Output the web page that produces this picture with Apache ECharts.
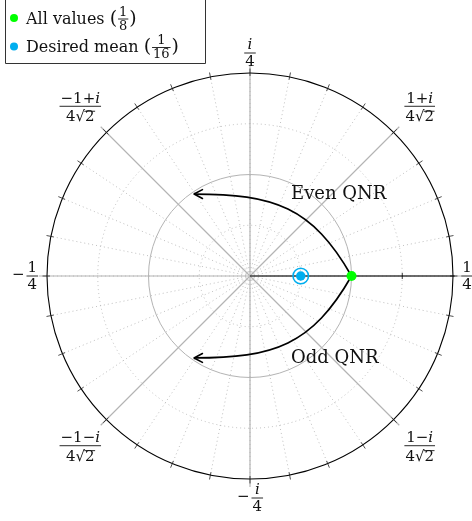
<!DOCTYPE html>
<html><head><meta charset="utf-8">
<script src="https://cdn.jsdelivr.net/npm/echarts@6/dist/echarts.min.js"></script>
<style>html,body{margin:0;padding:0;background:#fff}#c{width:472px;height:521px}</style>
</head><body><div id="c"></div>
<script>
// ---------- data ----------
const outerRadius = 0.25;
const solidRadii = [0.125];
const dottedRadii = [0.0625, 0.1875];
const majorAngles = [0, 45, 90, 135, 180, 225, 270, 315];
const minorAngles = [0, 11.25, 22.5, 33.75, 45, 56.25, 67.5, 78.75, 90, 101.25, 112.5, 123.75,
  135, 146.25, 157.5, 168.75, 180, 191.25, 202.5, 213.75, 225, 236.25, 247.5, 258.75,
  270, 281.25, 292.5, 303.75, 315, 326.25, 337.5, 348.75];
const realAxisTicks = [0.0625, 0.125, 0.1875];
const allValues = [[0.125, 0]];
const desiredMean = [[0.0625, 0]];
// cubic Bezier control points (complex plane units)
const evenQNR = [[0.125, 0], [0.0763, 0.0852], [0.0295, 0.1009], [-0.0689, 0.1009]];
const oddQNR = [[0.125, 0], [0.0763, -0.0852], [0.0295, -0.1009], [-0.0689, -0.1009]];
const curveNames = ['Even QNR', 'Odd QNR'];
const labelAngles = [0, 45, 90, 135, 180, 225, 270, 315];
const labelSigns = ['', '', '', '', '\u2212', '', '\u2212', ''];
const labelNums = ['1', '1+i', 'i', '\u22121+i', '1', '\u22121\u2212i', 'i', '1\u2212i'];
const labelDens = ['4', '4\u221A2', '4', '4\u221A2', '4', '4\u221A2', '4', '4\u221A2'];
const legendNames = ['All values', 'Desired mean'];
const legendNums = ['1', '1'];
const legendDens = ['8', '16'];

// ---------- layout ----------
const PX = 812;             // pixels per unit
const CX = 250, CY = 276;   // pixel position of origin
const FONT = '"DejaVu Serif"';
const GREEN = '#00ff00', CYAN = '#00AEEF', GRID = '#b4b4b4', DOT = '#b0b0b0';

const ctx = document.createElement('canvas').getContext('2d');
function measure(t, fs, italic) { ctx.font = (italic ? 'italic ' : '') + fs + 'px ' + FONT; return ctx.measureText(t).width; }
const rad = d => d * Math.PI / 180;

function fracEls(cx, cy, num, den, fs, color) {
  const wn = measure(num, fs), wd = measure(den, fs);
  const w = Math.max(wn, wd) + 2;
  const hasSqrt = den.indexOf('\u221A') >= 0;
  const rich = { it: { fontStyle: 'italic', fontSize: fs, fontFamily: FONT, fill: color } };
  const els = [
    { type: 'text', x: cx, y: cy - fs * 0.5, style: { text: num.replace(/i/g, '{it|i}'), rich, fontSize: fs, fontFamily: FONT, fill: color, align: 'center', verticalAlign: 'middle' } },
    { type: 'line', shape: { x1: cx - w / 2, y1: cy, x2: cx + w / 2, y2: cy }, style: { stroke: color, lineWidth: 0.9 } },
    { type: 'text', x: cx, y: cy + fs * (hasSqrt ? 0.75 : 0.58), style: { text: den, fontSize: fs, fontFamily: FONT, fill: color, align: 'center', verticalAlign: 'middle' } }
  ];
  if (hasSqrt) {
    const left = cx - wd / 2;
    const x1 = left + measure(den.slice(0, den.indexOf('\u221A') + 1), fs) - 0.8;
    const yo = cy + fs * 0.75 - fs * 0.42;
    els.push({ type: 'line', shape: { x1, y1: yo, x2: left + wd + 0.5, y2: yo }, style: { stroke: color, lineWidth: 0.9 } });
  }
  return { els, w };
}

function circleSeries(radii, style, z) {
  return {
    type: 'custom', coordinateSystem: 'cartesian2d', z, silent: true, clip: false,
    data: radii.map(r => [r, 0]), encode: { x: 0, y: 1 },
    renderItem(p, api) {
      const c = api.coord([0, 0]);
      const r = api.size([api.value(0), 0])[0];
      return { type: 'circle', shape: { cx: c[0], cy: c[1], r }, style: Object.assign({ fill: 'none' }, style) };
    }
  };
}
function spokeSeries(angles, r0, r1, style, z) {
  return {
    type: 'custom', coordinateSystem: 'cartesian2d', z, silent: true, clip: false,
    data: angles.map(a => [a, 0]), encode: { x: 0, y: 1 },
    renderItem(p, api) {
      const a = rad(api.value(0));
      const p0 = api.coord([r0 * Math.cos(a), r0 * Math.sin(a)]);
      const p1 = api.coord([r1 * Math.cos(a), r1 * Math.sin(a)]);
      return { type: 'line', shape: { x1: p0[0], y1: p0[1], x2: p1[0], y2: p1[1] }, style };
    }
  };
}
function curveSeries(pts, name) {
  return {
    type: 'custom', coordinateSystem: 'cartesian2d', z: 6, silent: true, clip: false,
    data: [pts.flat()], encode: { x: 0, y: 1 },
    renderItem(p, api) {
      const q = [0, 1, 2, 3].map(i => api.coord([api.value(2 * i), api.value(2 * i + 1)]));
      const dx = q[3][0] - q[2][0], dy = q[3][1] - q[2][1];
      const L = Math.hypot(dx, dy), ux = dx / L, uy = dy / L;
      const hl = 9.5, phi = rad(28);
      const back = (s) => [q[3][0] - hl * (ux * Math.cos(s * phi) - uy * Math.sin(s * phi)), q[3][1] - hl * (uy * Math.cos(s * phi) + ux * Math.sin(s * phi))];
      // label sits right of the curve, level with the arrow's end
      const lp = api.coord([api.value(0) - 0.0745, api.value(7)]);
      return {
        type: 'group', children: [
          { type: 'bezierCurve', shape: { x1: q[0][0], y1: q[0][1], cpx1: q[1][0], cpy1: q[1][1], cpx2: q[2][0], cpy2: q[2][1], x2: q[3][0], y2: q[3][1] }, style: { stroke: '#000', lineWidth: 1.7, fill: 'none' } },
          { type: 'polyline', shape: { points: [back(1), q[3], back(-1)] }, style: { stroke: '#000', lineWidth: 1.6, fill: 'none', lineJoin: 'round', lineCap: 'round' } },
          { type: 'text', x: lp[0], y: lp[1], style: { text: name, fontSize: 18, fontFamily: FONT, fill: '#111', align: 'left', verticalAlign: 'middle' } }
        ]
      };
    }
  };
}

const labelDist = a => (a % 90 !== 0) ? 240 : ({ 0: 217, 90: 223, 180: 225, 270: 222 })[a];

const labelSeries = {
  type: 'custom', coordinateSystem: 'cartesian2d', z: 7, silent: true, clip: false,
  data: labelAngles.map((a, i) => [a, i]), encode: { x: 0, y: 1 },
  renderItem(p, api) {
    const a = rad(api.value(0)), i = api.value(1);
    const o = api.coord([0, 0]);
    const d = labelDist(labelAngles[i]);
    const cx = o[0] + d * Math.cos(a), cy = o[1] - d * Math.sin(a);
    const fs = 15;
    const sign = labelSigns[i];
    let children = [];
    if (sign) {
      const fw = Math.max(measure(labelNums[i], fs), measure(labelDens[i], fs)) + 2;
      const sw = measure(sign, fs);
      const total = sw + 2 + fw;
      const left = cx - total / 2;
      children.push({ type: 'text', x: left + sw / 2, y: cy - 1, style: { text: sign, fontSize: fs, fontFamily: FONT, fill: '#111', align: 'center', verticalAlign: 'middle' } });
      children = children.concat(fracEls(left + sw + 2 + fw / 2, cy, labelNums[i], labelDens[i], fs, '#111').els);
    } else {
      children = fracEls(cx, cy, labelNums[i], labelDens[i], fs, '#111').els;
    }
    return { type: 'group', children };
  }
};

const tickSeries = {
  type: 'custom', coordinateSystem: 'cartesian2d', z: 5, silent: true, clip: false,
  data: realAxisTicks.map(t => [t, 0]), encode: { x: 0, y: 1 },
  renderItem(p, api) {
    const c = api.coord([api.value(0), 0]);
    return { type: 'line', shape: { x1: c[0], y1: c[1] - 3, x2: c[0], y2: c[1] + 3 }, style: { stroke: '#000', lineWidth: 0.8 } };
  }
};

// legend (pixel layout)
const legendEls = [{ type: 'rect', shape: { x: 5.5, y: -1, width: 200, height: 64.5 }, style: { fill: '#fff', stroke: '#333', lineWidth: 1 }, z: 100 }];
[GREEN, CYAN].forEach((col, i) => {
  const y = 18 + 28.5 * i;
  legendEls.push({ type: 'circle', shape: { cx: 14, cy: y, r: 4 }, style: { fill: col }, z: 101 });
  const t = legendNames[i] + ' ';
  const tw = measure(t, 16);
  legendEls.push({ type: 'text', x: 26, y: y + 1.5, style: { text: t, fontSize: 16, fontFamily: FONT, fill: '#111', verticalAlign: 'middle' }, z: 101 });
  let x = 26 + tw;
  const pw = measure('(', 19);
  legendEls.push({ type: 'text', x, y: y + 1, style: { text: '(', fontSize: 19, fontFamily: FONT, fill: '#111', verticalAlign: 'middle' }, z: 101 });
  x += pw + 1;
  const fw = Math.max(measure(legendNums[i], 13), measure(legendDens[i], 13)) + 2;
  const f = fracEls(x + fw / 2, y + 1, legendNums[i], legendDens[i], 13, '#111');
  f.els.forEach(e => { e.z = 101; legendEls.push(e); });
  x += fw + 1;
  legendEls.push({ type: 'text', x, y: y + 1, style: { text: ')', fontSize: 19, fontFamily: FONT, fill: '#111', verticalAlign: 'middle' }, z: 101 });
});

const chart = echarts.init(document.getElementById('c'), null, { renderer: 'canvas' });
chart.setOption({
  animation: false,
  backgroundColor: '#fff',
  grid: { left: 0, right: 0, top: 0, bottom: 0, containLabel: false },
  xAxis: { type: 'value', min: -CX / PX, max: (472 - CX) / PX, show: false },
  yAxis: { type: 'value', min: -(521 - CY) / PX, max: CY / PX, show: false },
  graphic: legendEls,
  series: [
    circleSeries(dottedRadii, { stroke: DOT, lineWidth: 0.8, lineDash: [1, 3] }, 1),
    spokeSeries(minorAngles, 0, outerRadius, { stroke: DOT, lineWidth: 0.8, lineDash: [1, 3] }, 1),
    circleSeries(solidRadii, { stroke: GRID, lineWidth: 1 }, 2),
    spokeSeries(majorAngles, 0, 0.26, { stroke: GRID, lineWidth: 1.2 }, 2),
    circleSeries([outerRadius], { stroke: '#000', lineWidth: 1.1 }, 3),
    spokeSeries(minorAngles, 0.2465, 0.2555, { stroke: '#222', lineWidth: 0.8 }, 3),
    spokeSeries([0], 0, outerRadius + 0.002, { stroke: '#000', lineWidth: 1.1 }, 4),
    tickSeries,
    curveSeries(evenQNR, curveNames[0]),
    curveSeries(oddQNR, curveNames[1]),
    { name: legendNames[0], type: 'scatter', z: 8, data: allValues, symbol: 'circle', symbolSize: 10, itemStyle: { color: GREEN, opacity: 1 }, silent: true },
    { name: legendNames[1], type: 'scatter', z: 8, data: desiredMean, symbol: 'circle', symbolSize: 9.5, itemStyle: { color: CYAN, opacity: 1 }, silent: true },
    { type: 'scatter', z: 8, data: desiredMean, symbol: 'circle', symbolSize: 15.5, itemStyle: { color: 'rgba(0,0,0,0)', borderColor: CYAN, borderWidth: 1.6, opacity: 1 }, silent: true },
    labelSeries
  ]
});
</script></body></html>
